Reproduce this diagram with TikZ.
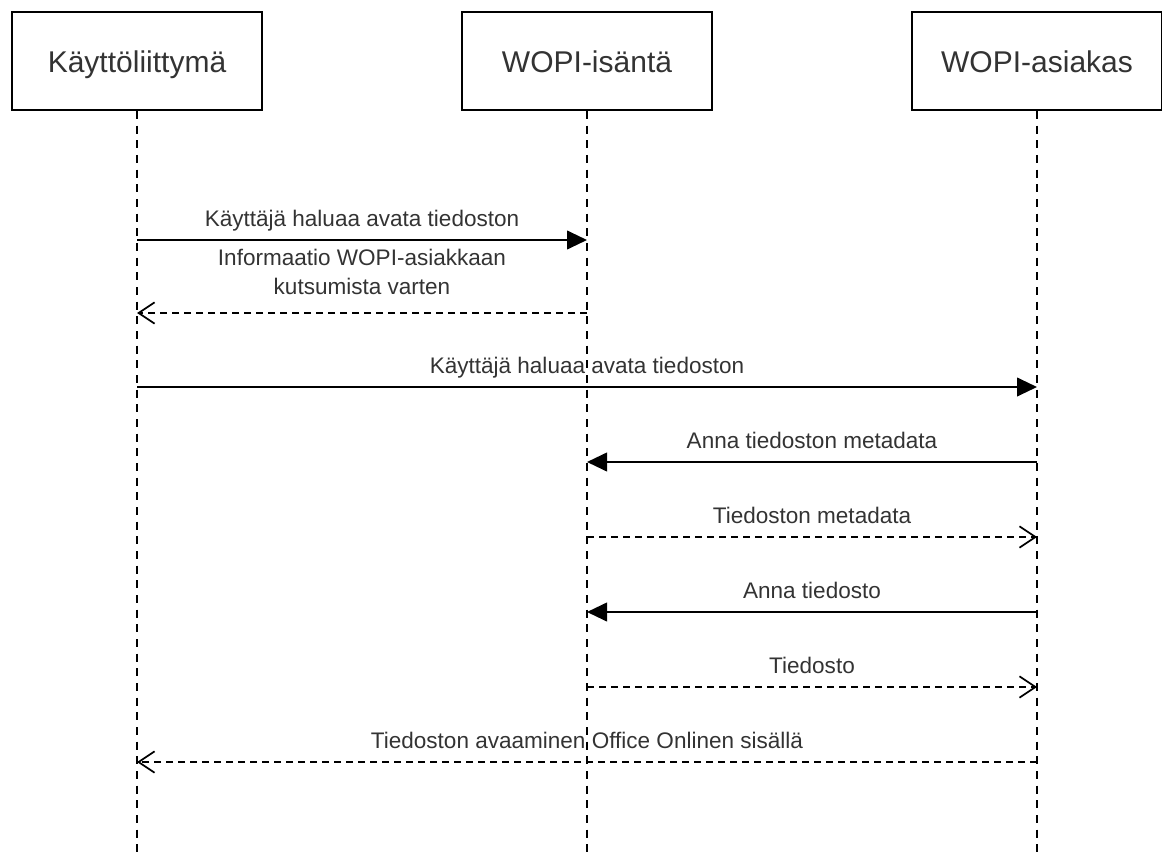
\documentclass[tikz,border=0pt]{standalone}
\usepackage{fontspec}
\setmainfont{Liberation Sans}
\usetikzlibrary{positioning,arrows.meta}
\definecolor{ink}{RGB}{51,51,51}
\newcommand{\hdfont}{\fontsize{22.5}{27}\selectfont}
\newcommand{\msgfont}{\fontsize{16.9}{21.75}\selectfont}

\begin{document}
\begin{tikzpicture}[x=0.75pt, y=-0.75pt,
    actor/.style={draw, fill=white, line width=1.5pt, minimum width=187.5pt,
      minimum height=73.5pt, font=\hdfont, text=ink, text height=22.5pt, text depth=4.5pt},
    lifeline/.style={line width=1.3pt, dash pattern=on 6pt off 5pt},
    call/.style={line width=1.5pt, -{Triangle[length=15pt, width=14pt]}},
    reply/.style={line width=1.2pt, dash pattern=on 5.25pt off 3.75pt,
      -{Straight Barb[length=12pt, width=16pt, line width=1.3pt]}},
    msg/.style={font=\msgfont, text=ink, inner sep=0pt, anchor=base, yshift=10.5pt}]
  \useasboundingbox (0,0) rectangle (1162,852);
  \node[actor] (ui) at (137,61) {Käyttöliittymä};
  \node[actor, right=148.5pt of ui] (host) {WOPI-isäntä};
  \node[actor, right=148.5pt of host] (client) {WOPI-asiakas};
  % lifelines and the points on them
  \foreach \a in {ui,host,client}{
    \coordinate (\a-end) at (\a |- 0,852);
    \foreach \y/\n in {240/1,313/2,387/3,462/4,537/5,612/6,687/7,762/8}
      \coordinate (\a-\n) at (\a |- 0,\y);
    \draw[lifeline] (\a.south) -- (\a-end);
  }
  % messages
  \draw[call] (ui-1) -- node[msg] {Käyttäjä haluaa avata tiedoston} (host-1);
  \draw[reply] (host-2) -- node[msg, align=center, anchor=south, yshift=2.25pt]
    {Informaatio WOPI-asiakkaan\\kutsumista varten} (ui-2);
  \draw[call] (ui-3) -- node[msg] {Käyttäjä haluaa avata tiedoston} (client-3);
  \draw[call] (client-4) -- node[msg] {Anna tiedoston metadata} (host-4);
  \draw[reply] (host-5) -- node[msg] {Tiedoston metadata} (client-5);
  \draw[call] (client-6) -- node[msg] {Anna tiedosto} (host-6);
  \draw[reply] (host-7) -- node[msg] {Tiedosto} (client-7);
  \draw[reply] (client-8) -- node[msg] {Tiedoston avaaminen Office Onlinen sisällä} (ui-8);
\end{tikzpicture}
\end{document}
